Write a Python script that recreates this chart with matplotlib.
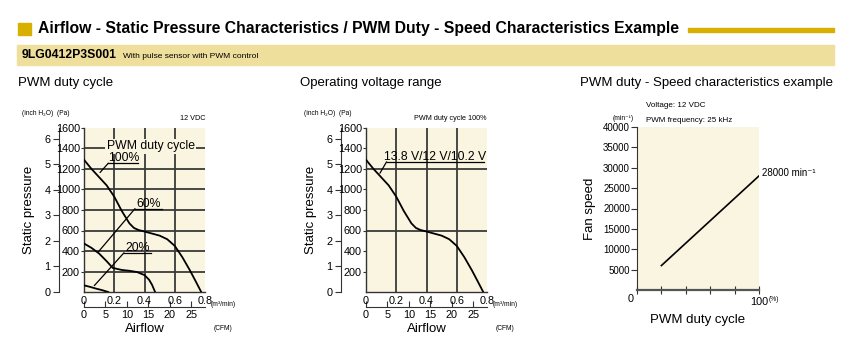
import numpy as np
import matplotlib.pyplot as plt
from matplotlib.patches import Rectangle

# ---- data ----
flow_100 = [0, 0.05, 0.10, 0.15, 0.20, 0.25, 0.30, 0.33, 0.36, 0.40, 0.45, 0.50, 0.55, 0.60, 0.65, 0.70, 0.74, 0.775]
pa_100 = [1290, 1200, 1120, 1040, 930, 790, 670, 625, 605, 590, 570, 550, 515, 450, 340, 212, 100, 0]
flow_60 = [0, 0.05, 0.10, 0.15, 0.19, 0.25, 0.30, 0.35, 0.40, 0.43, 0.45, 0.47]
pa_60 = [473, 430, 375, 300, 235, 215, 207, 195, 165, 120, 70, 0]
flow_20 = [0, 0.04, 0.08, 0.12, 0.16]
pa_20 = [65, 50, 33, 18, 0]
duty = [20, 100]
speed = [6000, 28000]

pa_ticks = [200, 400, 600, 800, 1000, 1200, 1400, 1600]
inch_ticks = [0, 1, 2, 3, 4, 5, 6]
flow_ticks = [0, 0.2, 0.4, 0.6, 0.8]
cfm_ticks = [0, 5, 10, 15, 20, 25]
speed_ticks = [5000, 10000, 15000, 20000, 25000, 30000, 35000, 40000]
duty_ticks = [0, 20, 40, 60, 80, 100]
duty_labels = ['', '', '', '', '', '100']

PA_PER_INCH = 249.09
CFM_PER_M3 = 35.315

plt.rcParams['font.family'] = ['Liberation Sans', 'DejaVu Sans']

W, H = 865, 343
bg = '#faf5e0'
gold = '#d8b000'
band = '#efdf9d'
grid_col = '#3a3a3a'
TICK_FS = 7.8

fig = plt.figure(figsize=(W / 100, H / 100), dpi=100)


def rect(l, t, r, b):
    return [l / W, 1 - b / H, (r - l) / W, (b - t) / H]


def fx(x):
    return x / W


def fy(y):
    return 1 - y / H


# ---- header ----
fig.patches.append(Rectangle((fx(18), fy(35)), 13 / W, 12 / H, transform=fig.transFigure, color=gold))
fig.text(fx(38), fy(29), 'Airflow - Static Pressure Characteristics / PWM Duty - Speed Characteristics Example',
         fontweight='bold', fontsize=11.3, va='center', ha='left')
fig.patches.append(Rectangle((fx(688), fy(32)), 146 / W, 4 / H, transform=fig.transFigure, color=gold))
fig.patches.append(Rectangle((fx(17), fy(65)), 817 / W, 20 / H, transform=fig.transFigure, color=band))
fig.text(fx(22), fy(55), '9LG0412P3S001', fontweight='bold', fontsize=8.8, va='center')
fig.text(fx(123), fy(56), 'With pulse sensor with PWM control', fontsize=6, va='center')

fig.text(fx(18), fy(83), 'PWM duty cycle', fontsize=9.5, va='center')
fig.text(fx(300), fy(83), 'Operating voltage range', fontsize=9.5, va='center')
fig.text(fx(580), fy(83), 'PWM duty - Speed characteristics example', fontsize=9.5, va='center')


def pq_axes(left, hgrid, corner_text):
    ax = fig.add_axes(rect(left, 128, left + 121, 292))
    ax.set_facecolor(bg)
    ax.set_xlim(0, 0.8)
    ax.set_ylim(0, 1600)
    for s in ['top', 'right']:
        ax.spines[s].set_visible(False)
    for s in ['left', 'bottom']:
        ax.spines[s].set_color('#333333')
        ax.spines[s].set_linewidth(1.0)
    for v in [0.2, 0.4, 0.6]:
        ax.axvline(v, color=grid_col, lw=1.3, zorder=1)
    for h in hgrid:
        ax.axhline(h, color=grid_col, lw=1.3, zorder=1)
    ax.set_yticks(pa_ticks)
    ax.set_yticklabels([str(t) for t in pa_ticks], fontsize=TICK_FS)
    ax.tick_params(axis='y', length=2, width=0.8, pad=1, color='#333333')
    ax.set_xticks(flow_ticks)
    ax.set_xticklabels(['0', '0.2', '0.4', '0.6', '0.8'], fontsize=TICK_FS)
    ax.tick_params(axis='x', length=0, pad=3)

    sy = ax.secondary_yaxis(-25 / 121, functions=(lambda p: p / PA_PER_INCH, lambda i: i * PA_PER_INCH))
    sy.set_yticks(inch_ticks)
    sy.set_yticklabels([str(t) for t in inch_ticks], fontsize=TICK_FS)
    sy.tick_params(direction='out', length=4, width=0.8, pad=2, color='#333333')
    sy.spines['left'].set_color('#333333')
    sy.set_ylabel('Static pressure', fontsize=9.5, labelpad=7)

    sx = ax.secondary_xaxis(-15 / 164, functions=(lambda m: m * CFM_PER_M3, lambda c: c / CFM_PER_M3))
    sx.set_xticks(cfm_ticks)
    sx.set_xticklabels([str(t) for t in cfm_ticks], fontsize=TICK_FS)
    sx.tick_params(direction='in', length=4, width=0.8, pad=2, color='#333333')
    sx.spines['bottom'].set_color('#333333')
    sx.set_xlabel('Airflow', fontsize=9.5, labelpad=2)

    ax.text(1.05, -0.075, '(m\u00b3/min)', transform=ax.transAxes, fontsize=4.8, va='center', ha='left')
    ax.text(1.07, -0.225, '(CFM)', transform=ax.transAxes, fontsize=4.8, va='center', ha='left')
    ax.text(-0.51, 1.09, '(inch H\u2082O)  (Pa)', transform=ax.transAxes, fontsize=4.8, va='center', ha='left')
    ax.text(1.0, 1.035, corner_text, transform=ax.transAxes, fontsize=5.2, va='bottom', ha='right')
    return ax


def leader(ax, xy, y_line, x0, x1, text, fs):
    ax.annotate('', xy=xy, xytext=(x0, y_line),
                arrowprops=dict(arrowstyle='-', color='black', lw=0.9, shrinkA=0, shrinkB=0), zorder=4)
    ax.plot([x0, x1], [y_line, y_line], color='black', lw=0.9, zorder=4, clip_on=False)
    ax.text((x0 + x1) / 2, y_line + 18, text, fontsize=fs, ha='center', va='baseline', zorder=5)


# ---- panel 1 ----
ax1 = pq_axes(84, [200, 400, 600, 800, 1000, 1200, 1400], '12 VDC')
ax1.plot(flow_100, pa_100, color='black', lw=1.3, zorder=3)
ax1.plot(flow_60, pa_60, color='black', lw=1.3, zorder=3)
ax1.plot(flow_20, pa_20, color='black', lw=1.3, zorder=3)
ax1.text(0.44, 1420, 'PWM duty cycle', fontsize=8.8, ha='center', va='center', zorder=5,
         bbox=dict(boxstyle='square,pad=0.1', fc=bg, ec='none'))
leader(ax1, (0.106, 1166), 1257, 0.161, 0.359, '100%', 8.8)
leader(ax1, (0.095, 392), 813, 0.337, 0.518, '60%', 8.8)
leader(ax1, (0.068, 62), 382, 0.264, 0.441, '20%', 8.8)

# ---- panel 2 ----
ax2 = pq_axes(366, [600, 1200], 'PWM duty cycle 100%')
ax2.plot(flow_100, pa_100, color='black', lw=1.3, zorder=3)
leader(ax2, (0.092, 1159), 1270, 0.136, 0.778, '13.8 V/12 V/10.2 V', 8.8)

# ---- panel 3 ----
ax3 = fig.add_axes(rect(637, 127, 759, 290))
ax3.set_facecolor(bg)
ax3.set_xlim(0, 100)
ax3.set_ylim(0, 40000)
for s in ['top', 'right']:
    ax3.spines[s].set_visible(False)
ax3.spines['left'].set_color('#333333')
ax3.spines['bottom'].set_color('#555555')
ax3.spines['bottom'].set_linewidth(1.6)
ax3.plot(duty, speed, color='black', lw=1.2)
ax3.set_yticks(speed_ticks)
ax3.set_yticklabels([str(t) for t in speed_ticks], fontsize=7)
ax3.tick_params(axis='y', length=4, width=0.8, pad=1, color='#333333')
ax3.set_xticks(duty_ticks)
ax3.set_xticklabels(duty_labels, fontsize=TICK_FS)
ax3.tick_params(axis='x', direction='inout', length=6, width=0.8, pad=2, color='#333333')
ax3.text(-0.05, -0.055, '0', transform=ax3.transAxes, fontsize=TICK_FS, va='center', ha='center')
ax3.set_ylabel('Fan speed', fontsize=9.5, labelpad=5)
ax3.set_xlabel('PWM duty cycle', fontsize=9.5, labelpad=5)
ax3.text(1.08, -0.06, '(%)', transform=ax3.transAxes, fontsize=4.8, va='center', ha='left')
ax3.text(-0.2, 1.05, '(min\u207b\u00b9)', transform=ax3.transAxes, fontsize=4.8, va='center', ha='left')
ax3.text(0.07, 1.13, 'Voltage: 12 VDC', transform=ax3.transAxes, fontsize=5.8, va='center', ha='left')
ax3.text(0.07, 1.04, 'PWM frequency: 25 kHz', transform=ax3.transAxes, fontsize=5.8, va='center', ha='left')
ax3.annotate('28000 min\u207b\u00b9', xy=(duty[-1], speed[-1]), xytext=(2, 2), textcoords='offset points',
             fontsize=7, va='center', ha='left', annotation_clip=False)

fig.savefig('out.png', dpi=100)
